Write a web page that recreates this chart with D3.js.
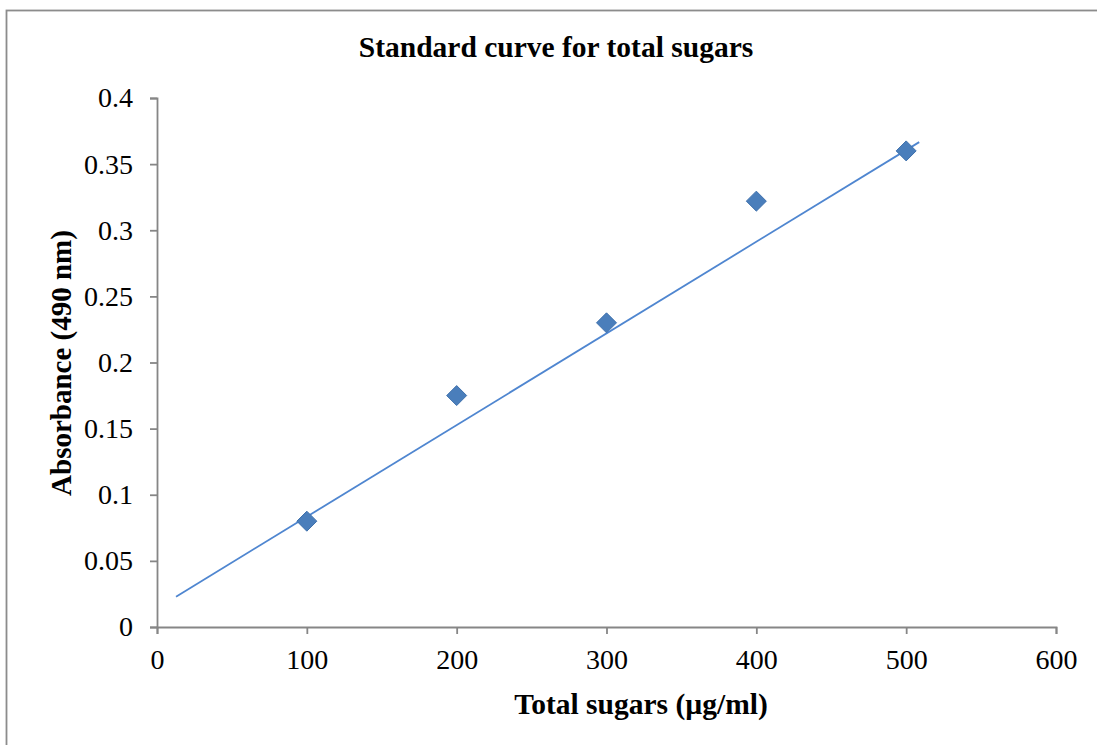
<!DOCTYPE html>
<html>
<head>
<meta charset="utf-8">
<script src="https://cdn.jsdelivr.net/npm/d3@7/dist/d3.min.js"></script>
<style>
  html, body { margin: 0; padding: 0; background: #fff; }
  svg { display: block; }
  text { font-family: "Liberation Serif", "Times New Roman", serif; fill: #000; }
</style>
</head>
<body>
<svg id="chart" width="1097" height="745"></svg>
<script>
// Standard curve: concentration (µg/ml) vs absorbance at 490 nm
const concentrations = [100, 200, 300, 400, 500];
const absorbances = [0.08, 0.175, 0.23, 0.322, 0.36];

// Linear trendline as plotted (slope, intercept) and its x extent
const trendSlope = 0.000693;
const trendIntercept = 0.0141;
const trendExtent = [12.7, 508.7];

const xTicks = [0, 100, 200, 300, 400, 500, 600];
const yTicks = [0, 0.05, 0.1, 0.15, 0.2, 0.25, 0.3, 0.35, 0.4];

const svg = d3.select("#chart");
const W = 1097, H = 745;
const margin = { left: 157, right: 1056, top: 98, bottom: 627 };

// Outer chart frame
svg.append("rect")
  .attr("x", 6.5).attr("y", 10.5)
  .attr("width", W + 10).attr("height", H + 10)
  .attr("fill", "none").attr("stroke", "#8c8c8c").attr("stroke-width", 1.8);

const x = d3.scaleLinear().domain([0, 600]).range([margin.left, margin.right]);
const y = d3.scaleLinear().domain([0, 0.4]).range([margin.bottom, margin.top]);

const axisColor = "#868686";
const tickFont = 28;

// X axis
const xAxis = svg.append("g")
  .attr("transform", `translate(0,${margin.bottom})`)
  .call(d3.axisBottom(x).tickValues(xTicks).tickSize(7).tickPadding(15).tickFormat(d3.format("d")));
xAxis.select(".domain").attr("stroke", axisColor).attr("stroke-width", 1.8);
xAxis.selectAll(".tick line").attr("stroke", axisColor).attr("stroke-width", 1.8);
xAxis.selectAll(".tick text")
  .attr("font-family", "Liberation Serif, serif").attr("font-size", tickFont).attr("fill", "#000");

// Y axis
const yAxis = svg.append("g")
  .attr("transform", `translate(${margin.left},0)`)
  .call(d3.axisLeft(y).tickValues(yTicks).tickSize(7).tickPadding(17).tickFormat(d => d3.format("")(+d.toFixed(2))));
yAxis.select(".domain").attr("stroke", axisColor).attr("stroke-width", 1.8);
yAxis.selectAll(".tick line").attr("stroke", axisColor).attr("stroke-width", 1.8);
yAxis.selectAll(".tick text")
  .attr("font-family", "Liberation Serif, serif").attr("font-size", tickFont).attr("fill", "#000");

// Trendline
const trend = trendExtent.map(v => [v, trendIntercept + trendSlope * v]);
svg.append("path")
  .datum(trend)
  .attr("d", d3.line().x(d => x(d[0])).y(d => y(d[1])))
  .attr("fill", "none").attr("stroke", "#4f86d0").attr("stroke-width", 1.8);

// Data markers (diamonds)
const pts = concentrations.map((c, i) => [c, absorbances[i]]);
svg.append("g").selectAll("path")
  .data(pts)
  .join("path")
  .attr("transform", d => `translate(${x(d[0])},${y(d[1])})`)
  .attr("d", "M0,-10L10,0L0,10L-10,0Z")
  .attr("fill", "#4a7ebb").attr("stroke", "#3f71ad").attr("stroke-width", 1);

// Title
svg.append("text")
  .attr("x", 556).attr("y", 57)
  .attr("text-anchor", "middle")
  .attr("font-weight", "bold").attr("font-size", 29.5)
  .text("Standard curve for total sugars");

// Axis titles
svg.append("text")
  .attr("x", 641).attr("y", 714)
  .attr("text-anchor", "middle")
  .attr("font-weight", "bold").attr("font-size", 29.5)
  .text("Total sugars (µg/ml)");

svg.append("text")
  .attr("transform", "translate(71,363) rotate(-90)")
  .attr("text-anchor", "middle")
  .attr("font-weight", "bold").attr("font-size", 29)
  .text("Absorbance (490 nm)");
</script>
</body>
</html>
